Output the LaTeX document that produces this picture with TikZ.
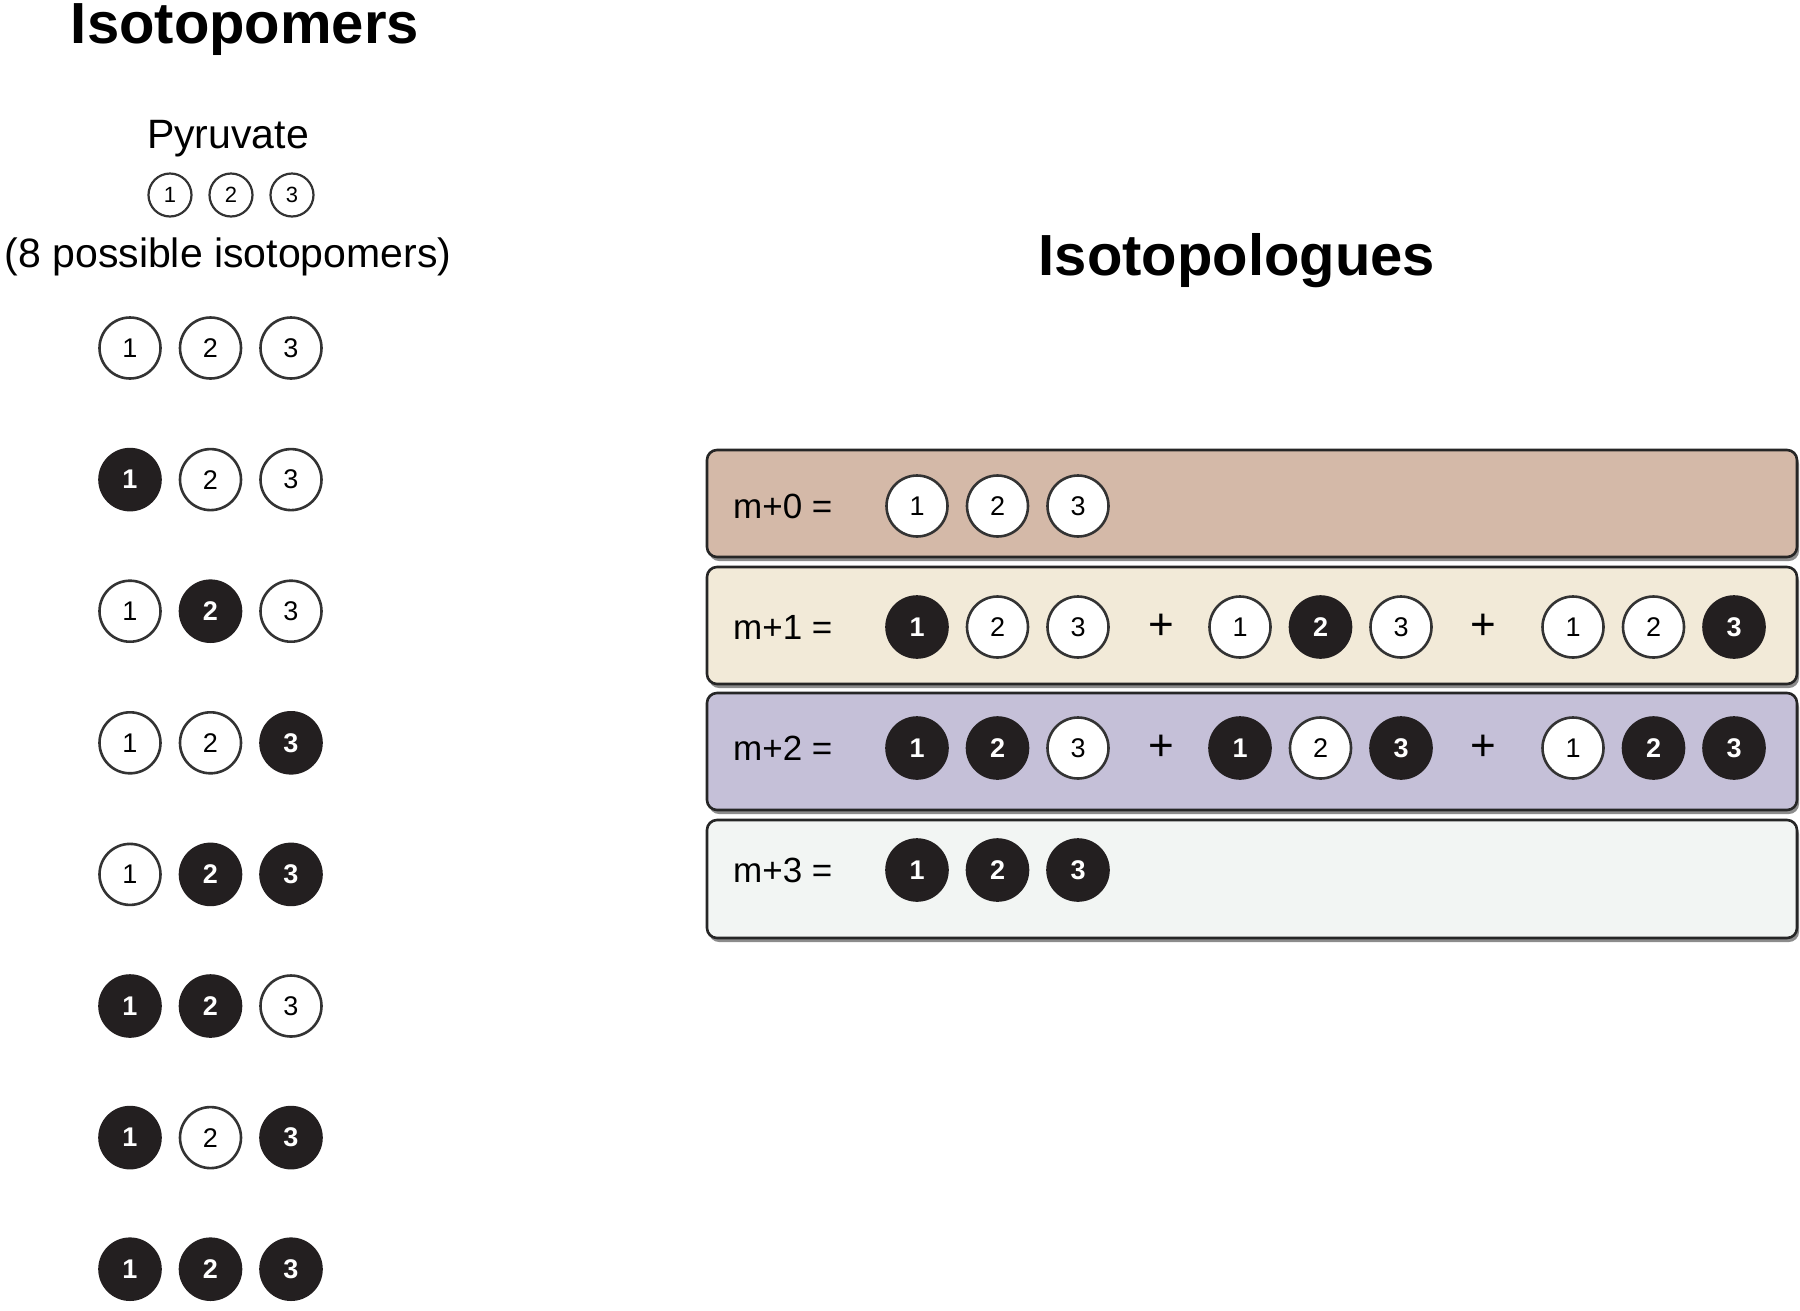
\documentclass[tikz,border=0pt]{standalone}
\usepackage{fontspec}
\setmainfont{Liberation Sans}
\usepackage{tikz}
\usetikzlibrary{positioning}

\definecolor{carbondark}{HTML}{231F20}
\definecolor{mzero}{HTML}{D4B9A8}
\definecolor{mone}{HTML}{F2EAD8}
\definecolor{mtwo}{HTML}{C5C0D8}
\definecolor{mthree}{HTML}{F2F5F3}

\tikzset{
  c0/.style={circle, draw=black!80, line width=2.6pt, fill=white, minimum size=61pt,
    inner sep=0pt, font=\fontsize{27}{27}\selectfont},
  c1/.style={circle, draw=carbondark, line width=2.6pt, fill=carbondark, text=white,
    minimum size=61pt, inner sep=0pt, font=\bfseries\fontsize{27}{27}\selectfont},
  smallc/.style={c0, minimum size=43pt, line width=2.2pt, font=\fontsize{22}{22}\selectfont},
  titletext/.style={font=\bfseries\fontsize{58}{60}\selectfont, inner sep=0pt},
  plaintext/.style={font=\fontsize{41}{43}\selectfont, inner sep=0pt},
  masslabel/.style={font=\fontsize{35}{37}\selectfont, inner sep=0pt, anchor=west},
  plussign/.style={font=\fontsize{44}{46}\selectfont, inner sep=0pt},
  massbox/.style={rounded corners=10pt, draw=black!85, line width=2.6pt},
}

\begin{document}
\begin{tikzpicture}[x=1pt, y=-1pt]
  \useasboundingbox (0,0) rectangle (1800,1310);

  % isotopomers of pyruvate
  \node[titletext, anchor=base] (isomers) at (245,43) {Isotopomers};
  \node[plaintext, anchor=base] (pyr) at (228,148) {Pyruvate};
  \node[smallc] (p1) at (170,195) {1};
  \node[smallc] (p2) at (231,195) {2};
  \node[smallc] (p3) at (292,195) {3};
  \node[plaintext, anchor=base] (possible) at (228,267) {(8 possible isotopomers)};

  \foreach \a/\b/\c [count=\r] in {0/0/0, 1/0/0, 0/1/0, 0/0/1, 0/1/1, 1/1/0, 1/0/1, 1/1/1} {
    \pgfmathsetmacro{\yy}{348+131.6*(\r-1)}
    \node[c\a] (L\r-1) at (130,\yy) {1};
    \node[c\b] (L\r-2) at (210.5,\yy) {2};
    \node[c\c] (L\r-3) at (291,\yy) {3};
  }

  % isotopologues
  \node[titletext, anchor=base] (isologues) at (1237,275) {Isotopologues};

  \foreach \top/\bot/\col [count=\k] in {450/557/mzero, 567/684/mone, 693/810/mtwo, 820/938/mthree} {
    \fill[black!45, rounded corners=10pt] (709,\top+4) rectangle (1799,\bot+4);
    \draw[massbox, fill=\col] (707,\top) rectangle (1797,\bot);
  }

  \foreach \yy [count=\k from 0] in {506,627,748,870}
    \node[masslabel] (lab\k) at (733,\yy) {m+\k\ =};

  \foreach \r/\g/\a/\b/\c in {1/1/0/0/0, 2/1/1/0/0, 2/2/0/1/0, 2/3/0/0/1,
      3/1/1/1/0, 3/2/1/0/1, 3/3/0/1/1, 4/1/1/1/1} {
    \pgfmathsetmacro{\yy}{{506,627,748,870}[\r-1]}
    \pgfmathsetmacro{\xx}{{917,1240,1573}[\g-1]}
    \node[c\a] (R\r-\g-1) at (\xx,\yy) {1};
    \node[c\b] (R\r-\g-2) at (\xx+80.5,\yy) {2};
    \node[c\c] (R\r-\g-3) at (\xx+161,\yy) {3};
  }

  \foreach \yy [count=\r from 2] in {627,748} {
    \node[plussign] (plus\r-a) at (1161,\yy) {+};
    \node[plussign] (plus\r-b) at (1483,\yy) {+};
  }
\end{tikzpicture}
\end{document}
